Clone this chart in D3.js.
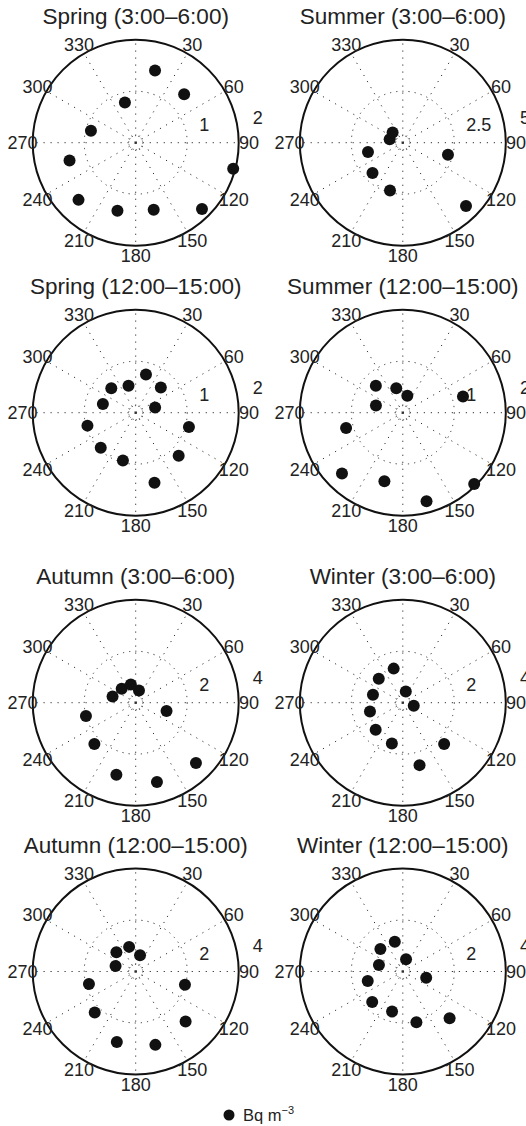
<!DOCTYPE html>
<html>
<head>
<meta charset="utf-8">
<script src="https://cdn.jsdelivr.net/npm/d3@7"></script>
<style>
  body { margin: 0; background: #fff; }
  svg { display: block; font-family: "Liberation Sans", Arial, Helvetica, sans-serif; }
  .spoke, .ring { fill: none; stroke: #333; stroke-width: 1; }
  .spoke { stroke-dasharray: 1.2 5.8; }
  .ring { stroke-dasharray: 1.2 5; }
  .inner { fill: none; stroke: #333; stroke-width: 0.8; stroke-dasharray: 1 2.2; }
  .frame { fill: none; stroke: #111; stroke-width: 2; }
  .lbl { font-size: 18px; fill: #222; }
  .title { font-size: 22.5px; fill: #222; }
</style>
</head>
<body>
<div id="chart"></div>
<script>
// wind direction bins (degrees, clockwise from north)
const directions = [15, 45, 75, 105, 135, 165, 195, 225, 255, 285, 315, 345];
const angleTicks = [30, 60, 90, 120, 150, 180, 210, 240, 270, 300, 330];

const titles = [
  "Spring (3:00\u20136:00)", "Summer (3:00\u20136:00)",
  "Spring (12:00\u201315:00)", "Summer (12:00\u201315:00)",
  "Autumn (3:00\u20136:00)", "Winter (3:00\u20136:00)",
  "Autumn (12:00\u201315:00)", "Winter (12:00\u201315:00)"
];
const radialMax = [2, 5, 2, 2, 4, 4, 4, 4];
const radialStep = [1, 2.5, 1, 1, 2, 2, 2, 2];

// Bq m-3 per direction bin (null = no point)
const springNight = [1.45, 1.33, null, 1.96, 1.82, 1.35, 1.37, 1.57, 1.33, 0.90, null, 0.81];
const summerNight = [null, null, null, 2.27, 4.34, null, 2.40, 2.08, 1.75, 0.66, 0.70, null];
const springDay   = [0.77, 0.69, 0.39, 1.07, 1.18, 1.41, 0.96, 0.96, 0.97, 0.66, 0.67, 0.54];
const summerDay   = [0.34, null, 1.21, null, 1.96, 1.78, 1.38, 1.67, 1.14, 0.54, 0.74, 0.49];
const autumnNight = [0.49, null, null, 1.24, 3.31, 3.19, 2.90, 2.27, 2.00, 0.93, 0.77, 0.73];
const winterNight = [0.45, null, null, 0.44, 2.27, 2.51, 1.64, 1.49, 1.32, 1.20, 1.32, 1.37];
const autumnDay   = [0.65, null, null, 1.98, 2.74, 2.95, 2.83, 2.25, 1.88, 0.81, 1.06, 0.99];
const winterDay   = [0.49, null, null, 0.94, 2.57, 2.04, 1.61, 1.68, 1.41, 0.96, 1.23, 1.20];

const series = [springNight, summerNight, springDay, summerDay,
                autumnNight, winterNight, autumnDay, winterDay];

const W = 526, H = 1126;
const R = 103;
const colX = [135.7, 402.8];
const rowY = [142.7, 412.7, 702.7, 971.5];

const svg = d3.select("#chart").append("svg")
  .attr("width", W).attr("height", H);

// compass angle -> x,y offset
function pt(deg, r) {
  const a = deg * Math.PI / 180;
  return [r * Math.sin(a), -r * Math.cos(a)];
}

titles.forEach((t, i) => {
  const cx = colX[i % 2], cy = rowY[Math.floor(i / 2)];
  const r = d3.scaleLinear().domain([0, radialMax[i]]).range([0, R]);
  const g = svg.append("g").attr("transform", `translate(${cx},${cy})`);

  // spokes
  [0, 30, 60, 90, 120, 150, 180, 210, 240, 270, 300, 330].forEach(a => {
    const [x, y] = pt(a, R);
    g.append("line").attr("class", "spoke")
      .attr("x1", 0).attr("y1", 0).attr("x2", x).attr("y2", y);
  });

  // rings
  const rings = d3.range(radialStep[i], radialMax[i] - 1e-9, radialStep[i]);
  g.selectAll(".ring").data(rings).enter().append("circle")
    .attr("class", "ring").attr("r", d => r(d));
  g.append("circle").attr("class", "inner").attr("r", 7);

  g.append("circle").attr("class", "frame").attr("r", R);

  // radial labels
  const ticks = d3.range(radialStep[i], radialMax[i] + 1e-9, radialStep[i]);
  g.selectAll(".rl").data(ticks).enter().append("text")
    .attr("class", "lbl")
    .attr("x", d => pt(82, r(d * 1.05))[0] + 10)
    .attr("y", d => pt(82, r(d * 1.05))[1] - 4)
    .text(d => d);

  // angle labels
  g.selectAll(".al").data(angleTicks).enter().append("text")
    .attr("class", "lbl")
    .attr("text-anchor", "middle")
    .attr("x", d => pt(d, R * 1.1)[0])
    .attr("y", d => pt(d, R * 1.1)[1])
    .attr("dy", "0.36em")
    .text(d => d);

  // points
  const pts = directions.map((d, k) => ({ dir: d, v: series[i][k] }))
    .filter(p => p.v != null);
  g.selectAll(".pt").data(pts).enter().append("circle")
    .attr("r", 6).attr("fill", "#111")
    .attr("cx", p => pt(p.dir, r(p.v))[0])
    .attr("cy", p => pt(p.dir, r(p.v))[1]);

  // title
  g.append("text").attr("class", "title")
    .attr("text-anchor", "middle")
    .attr("y", -118.5)
    .text(t);
});

// legend
const leg = svg.append("g").attr("transform", "translate(229,1115)");
leg.append("circle").attr("r", 5.5).attr("fill", "#111");
const lt = leg.append("text").attr("x", 14).attr("y", 5.5)
  .attr("font-size", 16.5).attr("fill", "#222");
lt.append("tspan").text("Bq m");
lt.append("tspan").attr("font-size", 11).attr("dy", -7).text("\u22123");
</script>
</body>
</html>
